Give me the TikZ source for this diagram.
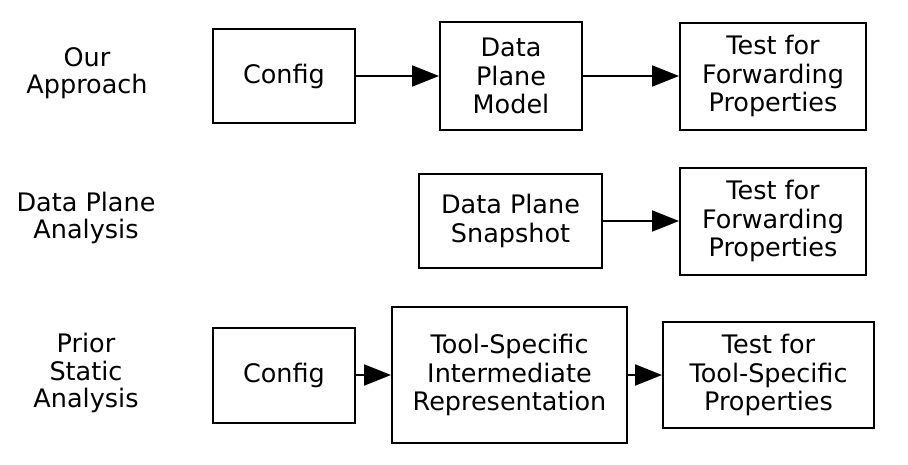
\documentclass[tikz,border=0pt]{standalone}
\usepackage{fontspec}
\setmainfont{DejaVu Sans}
\usetikzlibrary{arrows.meta}
\tikzstyle{block}=[draw, line width=2pt, align=center, inner sep=0pt, font=\fontsize{25.5}{28.5}\selectfont]
\tikzstyle{rowlabel}=[align=center, inner sep=0pt, font=\fontsize{25.5}{27.5}\selectfont]
\tikzstyle{flow}=[line width=2pt, -{Triangle[length=27pt,width=21pt]}]
\newcommand{\stageblock}[5]{% Syntax: {name}{center}{width}{height}{text}
	\node[block, minimum width=#3pt, minimum height=#4pt] (#1) at (#2) {#5};
}

\begin{document}
\begin{tikzpicture}[x=1pt, y=-1pt]
  \useasboundingbox (0,0) rectangle (908,464);
  % row labels
  \node[rowlabel] (ours) at (87,73) {Our\\Approach};
  \node[rowlabel] (dpa) at (86,218) {Data Plane\\Analysis};
  \node[rowlabel] (psa) at (86,373) {Prior\\Static\\Analysis};
  % our approach
  \stageblock{cfgA}{284,76}{142}{94}{Config}
  \stageblock{dpm}{511,76}{142}{108}{Data\\Plane\\Model}
  \stageblock{fwdA}{773,76}{186}{107}{Test for\\Forwarding\\Properties}
  \draw[flow] (cfgA) -- (dpm);
  \draw[flow] (dpm) -- (fwdA);
  % data plane analysis
  \stageblock{snap}{510.5,221}{183}{94}{Data Plane\\Snapshot}
  \stageblock{fwdB}{773,221}{186}{107}{Test for\\Forwarding\\Properties}
  \draw[flow] (snap) -- (fwdB);
  % prior static analysis
  \stageblock{cfgB}{284,375}{142}{95}{Config}
  \stageblock{ir}{509.5,375}{235}{136}{Tool-Specific\\Intermediate\\Representation}
  \stageblock{tsp}{768.5,375}{211}{106}{Test for\\Tool-Specific\\Properties}
  \draw[flow] (cfgB) -- (ir);
  \draw[flow] (ir) -- (tsp);
\end{tikzpicture}
\end{document}
